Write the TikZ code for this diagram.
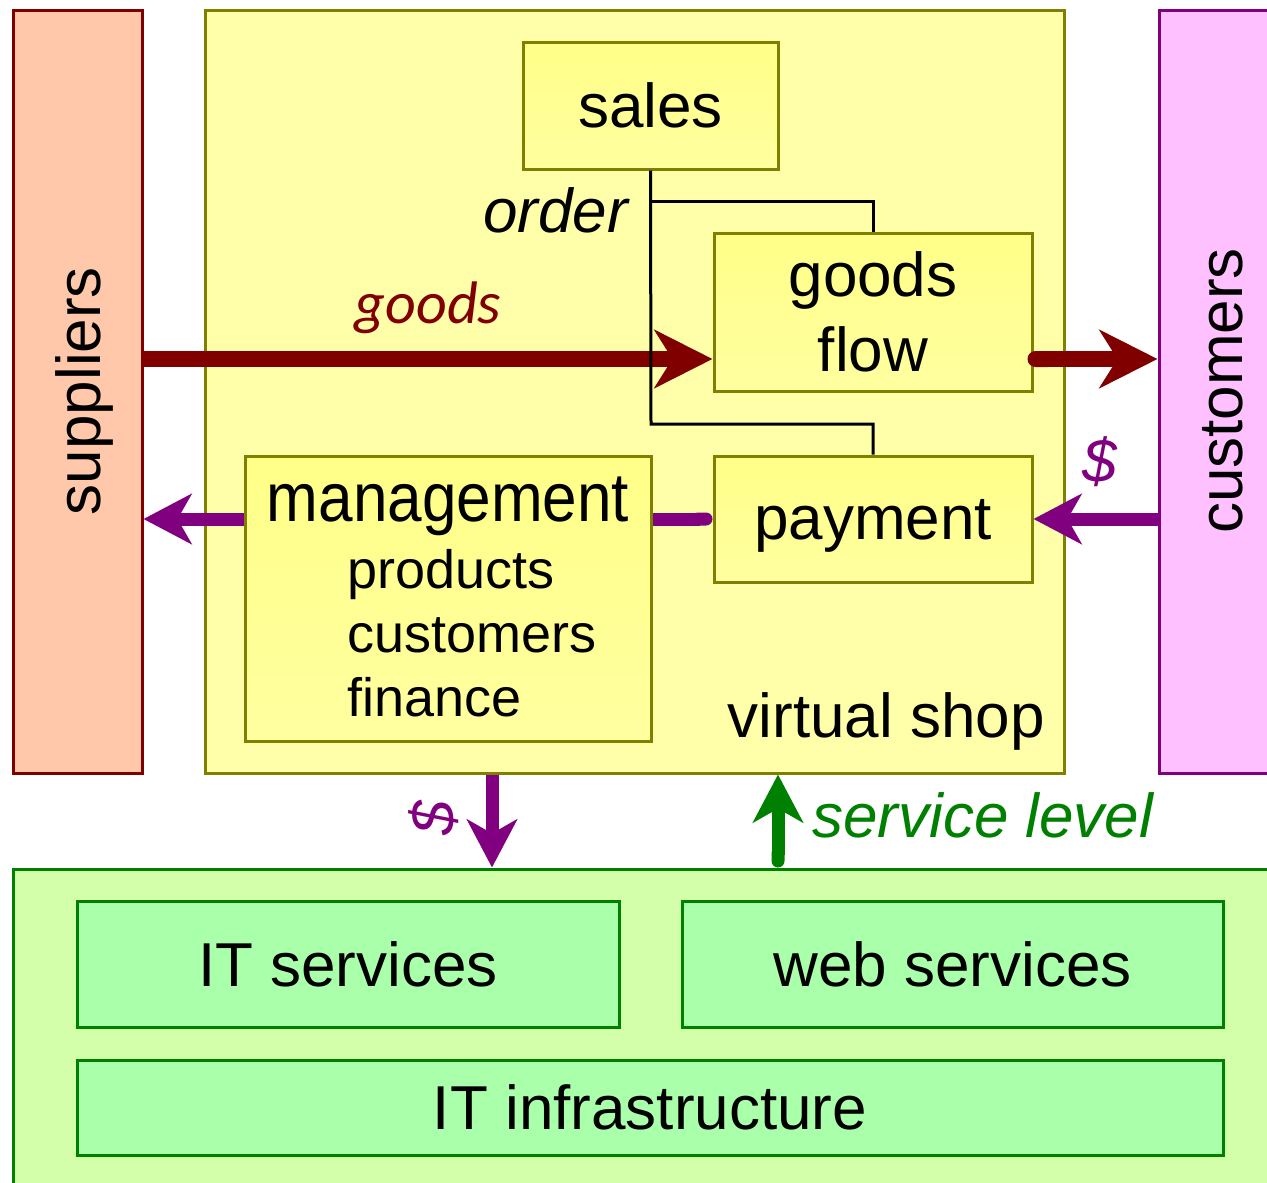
\documentclass[tikz,border=0pt]{standalone}
\usepackage{fontspec}
\setmainfont{Liberation Sans}
\newfontfamily\calfont{Carlito}
\usetikzlibrary{arrows.meta}
\definecolor{supfill}{RGB}{255,200,170}
\definecolor{supline}{RGB}{128,0,0}
\definecolor{shopfill}{RGB}{255,255,170}
\definecolor{shopline}{RGB}{128,128,0}
\definecolor{boxtop}{RGB}{255,255,136}
\definecolor{boxbot}{RGB}{255,255,160}
\definecolor{custfill}{RGB}{255,192,255}
\definecolor{custline}{RGB}{128,0,128}
\definecolor{basefill}{RGB}{212,255,170}
\definecolor{itfill}{RGB}{170,255,170}
\definecolor{itline}{RGB}{0,128,0}
\definecolor{goodsred}{RGB}{128,0,0}
\definecolor{moneyc}{RGB}{128,0,128}
\definecolor{svc}{RGB}{0,128,0}
\begin{document}
\begin{tikzpicture}[x=1pt,y=-1pt,
  every node/.style={inner sep=0pt, font=\fontsize{62}{75}\selectfont},
  lane/.style={line width=3pt},
  unit/.style={draw=shopline, line width=3pt, top color=boxtop, bottom color=boxbot, text depth=0pt, align=center},
  itbox/.style={draw=itline, fill=itfill, line width=3pt, text depth=0pt},
  flow/.style={line width=16pt, goodsred},
  money/.style={line width=13pt, moneyc},
  slanted/.style={font=\fontsize{62}{75}\selectfont\itshape},
  gtip/.tip={Stealth[length=58pt,width=58pt,inset=18pt]},
  ptip/.tip={Stealth[length=48pt,width=50pt,inset=14pt]}]
\useasboundingbox (0,0) rectangle (1267,1183);
\clip (0,0) rectangle (1267,1183);
% outer lanes
\node[lane, draw=supline, fill=supfill, minimum width=129, minimum height=763] (sup) at (77.5,391.5) {};
\node[lane, draw=shopline, fill=shopfill, minimum width=859, minimum height=763] (shop) at (634.5,391.5) {};
\node[lane, draw=custline, fill=custfill, minimum width=141, minimum height=763] (cust) at (1229.5,391.5) {};
\node[lane, draw=itline, fill=basefill, minimum width=1287, minimum height=341] (base) at (656.5,1039.5) {};
% shop units
\node[unit, minimum width=255, minimum height=127] (sales) at (650.5,105.5) {sales};
\node[unit, minimum width=318, minimum height=158] (goods) at (873,312) {goods\\flow};
\node[unit, minimum width=318, minimum height=126] (pay) at (873,519) {payment};
\node[unit, minimum width=406, minimum height=285] (mgmt) at (448,598.5) {};
% it units
\node[itbox, minimum width=542, minimum height=126] (its) at (348,964) {IT services};
\node[itbox, minimum width=541, minimum height=126] (webs) at (952.5,964) {web services};
\node[itbox, minimum width=1146, minimum height=95] (infra) at (650,1107.5) {IT infrastructure};
% helper points
\coordinate (gy) at (0,359);
\coordinate (o1) at (651,201);
\coordinate (o2) at (651,424);
\coordinate (dx) at (492,0);
\coordinate (ux) at (778,0);
% flows
\draw[flow, -{gtip}] (sup.east |- gy) -- (goods.west |- gy);
\draw[flow, {Round Cap[]}-{gtip}] ([xshift=-6pt]goods.east |- gy) -- (cust.west |- gy);
\draw[money, -{ptip}] (cust.west |- pay.east) -- (pay.east);
\draw[money, {Round Cap[]}-] (pay.west) -- (mgmt.east |- pay.west);
\draw[money, -{ptip}] (mgmt.west |- pay.west) -- (sup.east |- pay.west);
\draw[money, -{ptip}] (shop.south -| dx) -- (base.north -| dx);
\draw[line width=13pt, svc, {Round Cap[]}-{ptip}] (base.north -| ux) -- (shop.south -| ux);
% order lines
\draw[line width=3pt] (sales.south) -- (o2) -| (pay.north);
\draw[line width=3pt] (o1) -| (goods.north);
% labels
\node[rotate=90, anchor=base] (supt) at (100,391) {suppliers};
\node[rotate=90, anchor=base] (custt) at (1242,391) {customers};
\node[slanted, anchor=base east] (ordt) at (628,232) {order};
\node[goodsred, anchor=base, font=\calfont\itshape\fontsize{60}{72}\selectfont] (goodst) at (428,323) {goods};
\node[slanted, moneyc] (usd1) at (1100,462) {\$};
\node[slanted, moneyc, rotate=90] (usd2) at (434,818) {\$};
\node[slanted, svc, anchor=base west] (svct) at (812,837) {service level};
\node[anchor=base east] (shopt) at (1045,737) {virtual shop};
\node[anchor=base, font=\fontsize{69}{80}\selectfont] (mgmtt) at (448,521) {\scalebox{0.9}[1]{management}};
\foreach \t [count=\i] in {products,customers,finance}
  \node[anchor=base west, font=\fontsize{54}{64}\selectfont] (sub\i) at (347,524+64*\i) {\t};
\end{tikzpicture}
\end{document}
